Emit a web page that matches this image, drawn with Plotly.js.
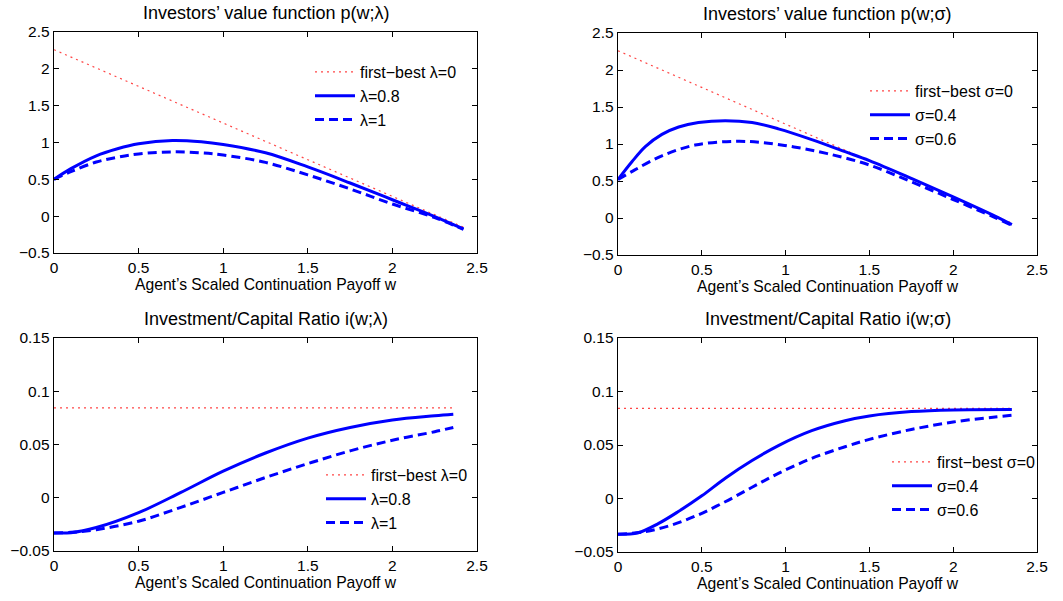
<!DOCTYPE html>
<html>
<head>
<meta charset="utf-8">
<script src="https://cdn.plot.ly/plotly-3.0.1.min.js"></script>
<style>html,body{margin:0;padding:0;background:#fff;}#chart{width:1063px;height:601px;}</style>
</head>
<body>
<div id="chart"></div>
<script>
// ---- Panel 1: Investors' value function p(w;λ)
const p1_fb_w = [0, 2.42];
const p1_fb_p = [2.26, -0.15];
const p1_l08_w = [0, 0.1, 0.25, 0.375, 0.5, 0.7, 0.87, 1.0, 1.25, 1.5, 1.75, 2.0, 2.25, 2.42];
const p1_l08_p = [0.5, 0.645, 0.82, 0.915, 0.983, 1.028, 1.01, 0.973, 0.86, 0.668, 0.45, 0.223, -0.005, -0.173];
const p1_l1_w = [0, 0.1, 0.25, 0.375, 0.5, 0.7, 0.87, 1.0, 1.25, 1.5, 1.75, 2.0, 2.25, 2.42];
const p1_l1_p = [0.5, 0.605, 0.735, 0.80, 0.845, 0.873, 0.86, 0.83, 0.73, 0.56, 0.37, 0.165, -0.02, -0.18];

// ---- Panel 2: Investors' value function p(w;σ)
const p2_fb_w = [0, 2.35];
const p2_fb_p = [2.26, -0.07];
const p2_s04_w = [0, 0.083, 0.163, 0.262, 0.362, 0.48, 0.64, 0.8, 0.957, 1.156, 1.355, 1.5, 1.75, 2.0, 2.25, 2.35];
const p2_s04_p = [0.52, 0.76, 0.965, 1.13, 1.23, 1.29, 1.315, 1.29, 1.205, 1.06, 0.896, 0.775, 0.535, 0.285, 0.025, -0.09];
const p2_s06_w = [0, 0.1, 0.262, 0.46, 0.7, 0.855, 1.05, 1.25, 1.5, 1.75, 2.0, 2.25, 2.35];
const p2_s06_p = [0.52, 0.65, 0.84, 0.986, 1.036, 1.02, 0.96, 0.87, 0.716, 0.49, 0.25, 0.005, -0.1];

// ---- Panel 3: Investment/Capital Ratio i(w;λ)
const p3_fb_w = [0, 2.36];
const p3_fb_i = [0.0843, 0.0843];
const p3_l08_w = [0, 0.1, 0.25, 0.5, 0.75, 1.0, 1.25, 1.5, 1.75, 2.0, 2.25, 2.36];
const p3_l08_i = [-0.033, -0.0328, -0.028, -0.014, 0.005, 0.025, 0.042, 0.056, 0.066, 0.073, 0.077, 0.0785];
const p3_l1_w = [0, 0.1, 0.25, 0.5, 0.75, 1.0, 1.25, 1.5, 1.75, 2.0, 2.25, 2.36];
const p3_l1_i = [-0.033, -0.0325, -0.030, -0.022, -0.009, 0.005, 0.019, 0.032, 0.044, 0.054, 0.062, 0.066];

// ---- Panel 4: Investment/Capital Ratio i(w;σ)
const p4_fb_w = [0, 2.35];
const p4_fb_i = [0.0843, 0.0843];
const p4_s04_w = [0, 0.12, 0.24, 0.36, 0.5, 0.64, 0.8, 0.957, 1.156, 1.355, 1.5, 1.75, 2.0, 2.35];
const p4_s04_i = [-0.0335, -0.032, -0.0235, -0.0122, 0.0025, 0.019, 0.0355, 0.0495, 0.0634, 0.0727, 0.0771, 0.0812, 0.0828, 0.0832];
const p4_s06_w = [0, 0.16, 0.32, 0.477, 0.64, 0.8, 0.957, 1.156, 1.355, 1.5, 1.75, 2.0, 2.25, 2.35];
const p4_s06_i = [-0.0335, -0.031, -0.0248, -0.0154, -0.003, 0.0105, 0.0235, 0.0375, 0.0484, 0.0553, 0.0645, 0.0715, 0.0762, 0.0778];

// ---- Text
const titles = ["Investors\u2019 value function p(w;\u03bb)", "Investors\u2019 value function p(w;\u03c3)",
                "Investment/Capital Ratio i(w;\u03bb)", "Investment/Capital Ratio i(w;\u03c3)"];
const xTitle = "Agent\u2019s Scaled Continuation Payoff w";
const namesL = ["first\u2212best \u03bb=0", "\u03bb=0.8", "\u03bb=1"];
const namesS = ["first\u2212best \u03c3=0", "\u03c3=0.4", "\u03c3=0.6"];
const xTicks = [0, 0.5, 1, 1.5, 2, 2.5];
const yTicksTop = [-0.5, 0, 0.5, 1, 1.5, 2, 2.5];
const yTicksBot = [-0.05, 0, 0.05, 0.1, 0.15];

const FONT = "Liberation Sans, Arial, Helvetica, sans-serif";
const RED = "rgb(255,70,70)";
const BLUE = "#0000ff";
const fbLine = {color: RED, width: 1.2, dash: "2px,4px"};
const solidLine = {color: BLUE, width: 3, shape: "spline", smoothing: 1};
const dashLine = {color: BLUE, width: 3, dash: "9px,5px", shape: "spline", smoothing: 1};

function tr(x, y, name, line, ax, leg) {
  return {x: x, y: y, name: name, mode: "lines", line: line, xaxis: "x" + ax, yaxis: "y" + ax,
          legend: leg, hoverinfo: "skip"};
}
const data = [
  tr(p1_fb_w, p1_fb_p, namesL[0], fbLine, "", "legend"),
  tr(p1_l08_w, p1_l08_p, namesL[1], solidLine, "", "legend"),
  tr(p1_l1_w, p1_l1_p, namesL[2], dashLine, "", "legend"),
  tr(p2_fb_w, p2_fb_p, namesS[0], fbLine, "2", "legend2"),
  tr(p2_s04_w, p2_s04_p, namesS[1], solidLine, "2", "legend2"),
  tr(p2_s06_w, p2_s06_p, namesS[2], dashLine, "2", "legend2"),
  tr(p3_fb_w, p3_fb_i, namesL[0], fbLine, "3", "legend3"),
  tr(p3_l08_w, p3_l08_i, namesL[1], solidLine, "3", "legend3"),
  tr(p3_l1_w, p3_l1_i, namesL[2], dashLine, "3", "legend3"),
  tr(p4_fb_w, p4_fb_i, namesS[0], fbLine, "4", "legend4"),
  tr(p4_s04_w, p4_s04_i, namesS[1], solidLine, "4", "legend4"),
  tr(p4_s06_w, p4_s06_i, namesS[2], dashLine, "4", "legend4")
];

const W = 1063, H = 601;
// plot boxes in pixels [left, right, top, bottom]
const boxes = [[54, 477, 32, 253], [618, 1037, 33, 255], [54, 477, 338, 551], [618, 1037, 338, 552]];
function xdom(b) { return [b[0] / W, b[1] / W]; }
function ydom(b) { return [1 - b[3] / H, 1 - b[2] / H]; }

function xaxis(b, anchor) {
  return {domain: xdom(b), anchor: anchor, range: [0, 2.5], tickvals: xTicks, ticktext: xTicks.map(String),
    ticks: "inside", ticklen: 5, tickwidth: 1, tickcolor: "#000", mirror: "ticks", showline: true,
    linecolor: "#000", linewidth: 1.3, showgrid: false, zeroline: false,
    tickfont: {family: FONT, size: 15.5, color: "#000"},
    title: {text: xTitle, font: {family: FONT, size: 15.7, color: "#000"}, standoff: 1}};
}
function yaxis(b, anchor, ticks, range) {
  return {domain: ydom(b), anchor: anchor, range: range, tickvals: ticks,
    ticktext: ticks.map(v => (v < 0 ? "\u2212" + String(-v) : String(v))),
    ticks: "inside", ticklen: 5, tickwidth: 1, tickcolor: "#000", mirror: "ticks", showline: true,
    linecolor: "#000", linewidth: 1.3, showgrid: false, zeroline: false,
    tickfont: {family: FONT, size: 15.5, color: "#000"}};
}
function legend(px, py) {
  return {x: px / W, y: 1 - py / H, xanchor: "left", yanchor: "top", bgcolor: "rgba(0,0,0,0)",
    borderwidth: 0, itemwidth: 40, font: {family: FONT, size: 16, color: "#000"}, tracegroupgap: 0};
}
const annotations = boxes.map((b, k) => ({
  text: titles[k], xref: "paper", yref: "paper", x: (b[0] + b[1]) / 2 / W, y: 1 - b[2] / H,
  xanchor: "center", yanchor: "bottom", yshift: 7, showarrow: false,
  font: {family: FONT, size: 18, color: "#000"}
}));

const layout = {
  width: W, height: H, margin: {l: 0, r: 0, t: 0, b: 0},
  paper_bgcolor: "#fff", plot_bgcolor: "#fff", showlegend: true,
  xaxis: xaxis(boxes[0], "y"), yaxis: yaxis(boxes[0], "x", yTicksTop, [-0.5, 2.5]),
  xaxis2: xaxis(boxes[1], "y2"), yaxis2: yaxis(boxes[1], "x2", yTicksTop, [-0.5, 2.5]),
  xaxis3: xaxis(boxes[2], "y3"), yaxis3: yaxis(boxes[2], "x3", yTicksBot, [-0.05, 0.15]),
  xaxis4: xaxis(boxes[3], "y4"), yaxis4: yaxis(boxes[3], "x4", yTicksBot, [-0.05, 0.15]),
  legend: legend(310, 55), legend2: legend(865, 74), legend3: legend(321, 458), legend4: legend(887, 445),
  annotations: annotations
};
Plotly.newPlot("chart", data, layout, {staticPlot: true, displayModeBar: false});
</script>
</body>
</html>
